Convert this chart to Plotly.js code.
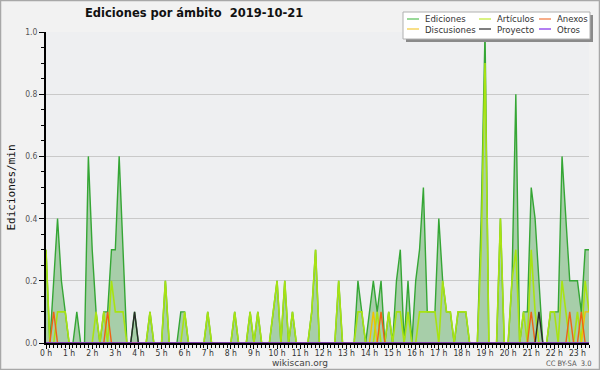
<!DOCTYPE html>
<html>
<head>
<meta charset="utf-8">
<script src="https://cdn.plot.ly/plotly-3.0.1.min.js"></script>
<style>
  html, body { margin: 0; padding: 0; background: #f2f2f2; }
  #chart { width: 600px; height: 370px; }
</style>
</head>
<body>
<div id="chart"></div>
<script>
// ---- data: edits per minute, one value per 10-minute slot (00:00 .. 23:30) ----
const slotMinutes = 10;

const ediciones = [
  0.3,0,0.2,0.4,0.2,0.1,0,0,0.1,0,
  0,0.6,0.3,0.1,0,0.1,0.1,0.3,0.3,0.6,
  0.3,0,0,0.1,0,0,0,0.1,0,0,
  0,0.2,0,0,0,0.1,0.1,0,0,0,
  0,0,0.1,0,0,0,0,0,0,0.1,
  0,0,0,0.1,0,0.1,0,0,0,0.1,
  0.2,0,0.2,0,0.1,0,0,0,0,0.1,
  0.3,0,0,0,0,0,0.2,0,0,0,
  0,0.2,0.1,0,0.1,0.2,0.1,0.2,0,0.1,
  0,0.2,0.3,0,0.2,0,0.2,0.3,0.5,0.1,
  0.1,0.1,0.4,0.2,0.1,0.1,0,0.1,0.1,0.1,
  0,0,0,0.4,1.0,0,0,0,0.4,0,
  0,0.2,0.8,0,0.1,0.1,0.5,0.4,0.2,0,
  0,0.1,0.1,0.1,0.6,0.4,0.2,0.2,0.2,0.1,
  0.3,0.3
];

const articulos = [
  0.3,0,0,0.1,0.1,0.1,0,0,0,0,
  0,0,0,0.1,0,0.1,0,0.2,0.1,0.1,
  0.1,0,0,0,0,0,0,0.1,0,0,
  0,0.2,0,0,0,0,0.1,0,0,0,
  0,0,0.1,0,0,0,0,0,0,0.1,
  0,0,0,0.1,0,0.1,0,0,0,0.1,
  0.2,0,0.2,0,0.1,0,0,0,0,0.1,
  0.3,0,0,0,0,0,0.2,0,0,0,
  0,0.1,0.1,0,0,0,0.1,0,0,0.1,
  0,0.1,0.1,0,0.1,0,0,0.1,0.1,0.1,
  0.1,0.1,0,0.2,0.1,0.1,0,0.1,0.1,0.1,
  0,0,0,0.3,0.9,0,0,0,0.4,0,
  0,0.2,0.3,0,0.1,0,0.3,0.1,0,0,
  0,0.1,0.1,0,0.2,0.1,0,0,0.1,0,
  0.2,0.1
];

const anexos = [
  0,0,0.1,0,0,0,0,0,0,0,
  0,0,0,0,0,0,0.1,0,0,0,
  0,0,0,0,0,0,0,0,0,0,
  0,0,0,0,0,0,0,0,0,0,
  0,0,0,0,0,0,0,0,0,0,
  0,0,0,0,0,0,0,0,0,0,
  0,0,0,0,0,0,0,0,0,0,
  0,0,0,0,0,0,0,0,0,0,
  0,0,0,0,0,0,0,0.1,0,0,
  0,0,0,0,0,0,0,0,0,0,
  0,0,0,0,0,0,0,0,0,0,
  0,0,0,0,0,0,0,0,0,0,
  0,0,0,0,0,0,0.1,0,0,0,
  0,0,0,0,0,0,0.1,0,0,0.1,
  0,0
];

const discusiones = [
  0,0,0,0,0,0,0,0,0,0,
  0,0,0,0,0,0,0,0,0,0,
  0,0,0,0,0,0,0,0,0,0,
  0,0,0,0,0,0,0,0,0,0,
  0,0,0,0,0,0,0,0,0,0,
  0,0,0,0,0,0,0,0,0,0,
  0,0,0,0,0,0,0,0,0,0,
  0,0,0,0,0,0,0,0,0,0,
  0,0,0,0,0,0.1,0,0,0,0,
  0,0,0,0,0,0,0,0,0,0,
  0,0,0,0,0,0,0,0,0,0,
  0,0,0,0,0,0,0,0,0,0,
  0,0,0,0,0,0,0,0,0,0,
  0,0,0,0,0,0,0,0,0,0,
  0.1,0.1
];

const proyecto = [
  0,0,0,0,0,0,0,0,0,0,
  0,0,0,0,0,0,0,0,0,0,
  0,0,0,0.1,0,0,0,0,0,0,
  0,0,0,0,0,0,0,0,0,0,
  0,0,0,0,0,0,0,0,0,0,
  0,0,0,0,0,0,0,0,0,0,
  0,0,0,0,0,0,0,0,0,0,
  0,0,0,0,0,0,0,0,0,0,
  0,0,0,0,0,0,0,0,0,0,
  0,0,0,0,0,0,0,0,0,0,
  0,0,0,0,0,0,0,0,0,0,
  0,0,0,0,0,0,0,0,0,0,
  0,0,0,0,0,0,0,0,0.1,0,
  0,0,0,0,0,0,0,0,0,0,
  0,0
];

const otros = [
  0,0,0,0,0,0,0,0,0,0,
  0,0,0,0,0,0,0,0,0,0,
  0,0,0,0,0,0,0,0,0,0,
  0,0,0,0,0,0,0,0,0,0,
  0,0,0,0,0,0,0,0,0,0,
  0,0,0,0,0,0,0,0,0,0,
  0,0,0,0,0,0,0,0,0,0,
  0,0,0,0,0,0,0,0,0,0,
  0,0,0,0,0,0,0,0,0,0,
  0,0,0,0,0,0,0,0,0,0,
  0,0,0,0,0,0,0,0,0,0,
  0,0,0,0,0,0,0,0,0,0,
  0,0,0,0,0,0,0,0,0,0,
  0,0,0,0,0,0,0,0,0,0,
  0,0
];

const hourTicks = [0,1,2,3,4,5,6,7,8,9,10,11,12,13,14,15,16,17,18,19,20,21,22,23];
const hourLabels = ["0 h","1 h","2 h","3 h","4 h","5 h","6 h","7 h","8 h","9 h","10 h","11 h",
                    "12 h","13 h","14 h","15 h","16 h","17 h","18 h","19 h","20 h","21 h","22 h","23 h"];

const seriesNames = ["Ediciones","Artículos","Anexos","Discusiones","Proyecto","Otros"];

// x position of each slot, in hours
const hours = ediciones.map((_, i) => i * slotMinutes / 60);

// ---- layout geometry ----
const W = 600, H = 370;
const M = {l: 46, r: 11, t: 32, b: 27};
const PW = W - M.l - M.r, PH = H - M.t - M.b;
const px = x => (x - M.l) / PW;
const py = y => (H - M.b - y) / PH;

const FONT = "DejaVu Sans, Verdana, sans-serif";
const FONT_C = "DejaVu Sans Condensed, DejaVu Sans, sans-serif";

function line(y, color, width, name, fill, fillcolor) {
  const t = {x: hours, y: y, type: "scatter", mode: "lines", name: name,
             line: {color: color, width: width, shape: "linear"},
             hoverinfo: "skip", showlegend: false};
  if (fill) { t.fill = "tozeroy"; t.fillcolor = fillcolor; }
  return t;
}

const traces = [
  line(ediciones, "#35a635", 1.4, seriesNames[0], true, "rgba(70,160,70,0.42)"),
  line(articulos, "#a8e312", 1.6, seriesNames[1]),
  line(discusiones, "#f2c200", 1.4, seriesNames[3]),
  line(anexos, "#ee6214", 1.4, seriesNames[2]),
  line(proyecto, "#2a2a2a", 1.4, seriesNames[4]),
  line(otros, "#9040e0", 1.4, seriesNames[5])
];

// ---- custom legend (two rows, three columns) ----
const legendItems = [
  {name: seriesNames[0], color: "#77cc77", col: 0, row: 0},
  {name: seriesNames[1], color: "#cdee5a", col: 1, row: 0},
  {name: seriesNames[2], color: "#f59262", col: 2, row: 0},
  {name: seriesNames[3], color: "#f6d560", col: 0, row: 1},
  {name: seriesNames[4], color: "#555555", col: 1, row: 1},
  {name: seriesNames[5], color: "#9a55ee", col: 2, row: 1}
];
const colX = [407, 479, 539];
const rowY = [19, 29];

const shapes = [
  // outer frame
  {type: "rect", xref: "paper", yref: "paper", x0: px(0.5), x1: px(599.5), y0: py(369.5), y1: py(0.5),
   line: {color: "#a8a8a8", width: 1.5}, layer: "below"},
  // legend shadow + box
  {type: "rect", xref: "paper", yref: "paper", x0: px(406), x1: px(593), y0: py(42), y1: py(15),
   fillcolor: "#8a8a8a", line: {width: 0}, layer: "above"},
  {type: "rect", xref: "paper", yref: "paper", x0: px(403), x1: px(590), y0: py(39), y1: py(12),
   fillcolor: "#ffffff", line: {color: "#b0b0b0", width: 1}, layer: "above"}
];
const annotations = [
  {text: "wikiscan.org", xref: "paper", yref: "paper", x: px(300), y: py(363.5), xanchor: "center", yanchor: "middle",
   showarrow: false, font: {family: FONT, size: 9, color: "#444"}},
  {text: "CC BY-SA  3.0", xref: "paper", yref: "paper", x: px(569), y: py(363), xanchor: "center", yanchor: "middle",
   showarrow: false, font: {family: FONT_C, size: 7.5, color: "#555"}}
];
legendItems.forEach(it => {
  const x0 = colX[it.col], y = rowY[it.row];
  shapes.push({type: "line", xref: "paper", yref: "paper", x0: px(x0), x1: px(x0 + 12), y0: py(y), y1: py(y),
               line: {color: it.color, width: 1.5}, layer: "above"});
  annotations.push({text: it.name, xref: "paper", yref: "paper", x: px(x0 + 16), y: py(y),
                    xanchor: "left", yanchor: "middle", showarrow: false,
                    font: {family: FONT_C, size: 9.5, color: "#333"}});
});

const layout = {
  width: W, height: H,
  margin: M,
  paper_bgcolor: "#f2f2f2",
  plot_bgcolor: "#eeeff1",
  showlegend: false,
  title: {text: "Ediciones por ámbito  2019-10-21", xref: "container", yref: "container",
          x: 85 / W, xanchor: "left", y: 1 - 13 / H, yanchor: "middle",
          font: {family: FONT, size: 11.5, color: "#111", weight: "bold"}},
  xaxis: {
    range: [0, hours[hours.length - 1]],
    tickmode: "array", tickvals: hourTicks, ticktext: hourLabels,
    ticks: "outside", ticklen: 4, tickwidth: 1, tickcolor: "#000",
    ticklabelstandoff: -3,
    minor: {tickmode: "linear", tick0: 0, dtick: slotMinutes / 60, ticks: "outside", ticklen: 3,
            tickwidth: 1, tickcolor: "#000", showgrid: false},
    showline: true, linecolor: "#000", linewidth: 2,
    showgrid: false, zeroline: false, fixedrange: true,
    tickfont: {family: FONT_C, size: 8.5, color: "#333"}
  },
  yaxis: {
    range: [0, 1.0], dtick: 0.2, tick0: 0, tickformat: ".1f",
    ticks: "outside", ticklen: 5, tickwidth: 1, tickcolor: "#000",
    minor: {dtick: 0.05, ticks: "outside", ticklen: 3, tickwidth: 1, tickcolor: "#000", showgrid: false},
    showline: true, linecolor: "#000", linewidth: 2,
    showgrid: true, gridcolor: "#c9c9c9", gridwidth: 1, zeroline: false, fixedrange: true,
    tickfont: {family: FONT_C, size: 8.5, color: "#555"},
    title: {text: "Ediciones/min", standoff: 7,
            font: {family: "DejaVu Sans Mono, monospace", size: 11, color: "#111"}}
  },
  shapes: shapes,
  annotations: annotations
};

Plotly.newPlot("chart", traces, layout, {staticPlot: true, displayModeBar: false});
</script>
</body>
</html>
